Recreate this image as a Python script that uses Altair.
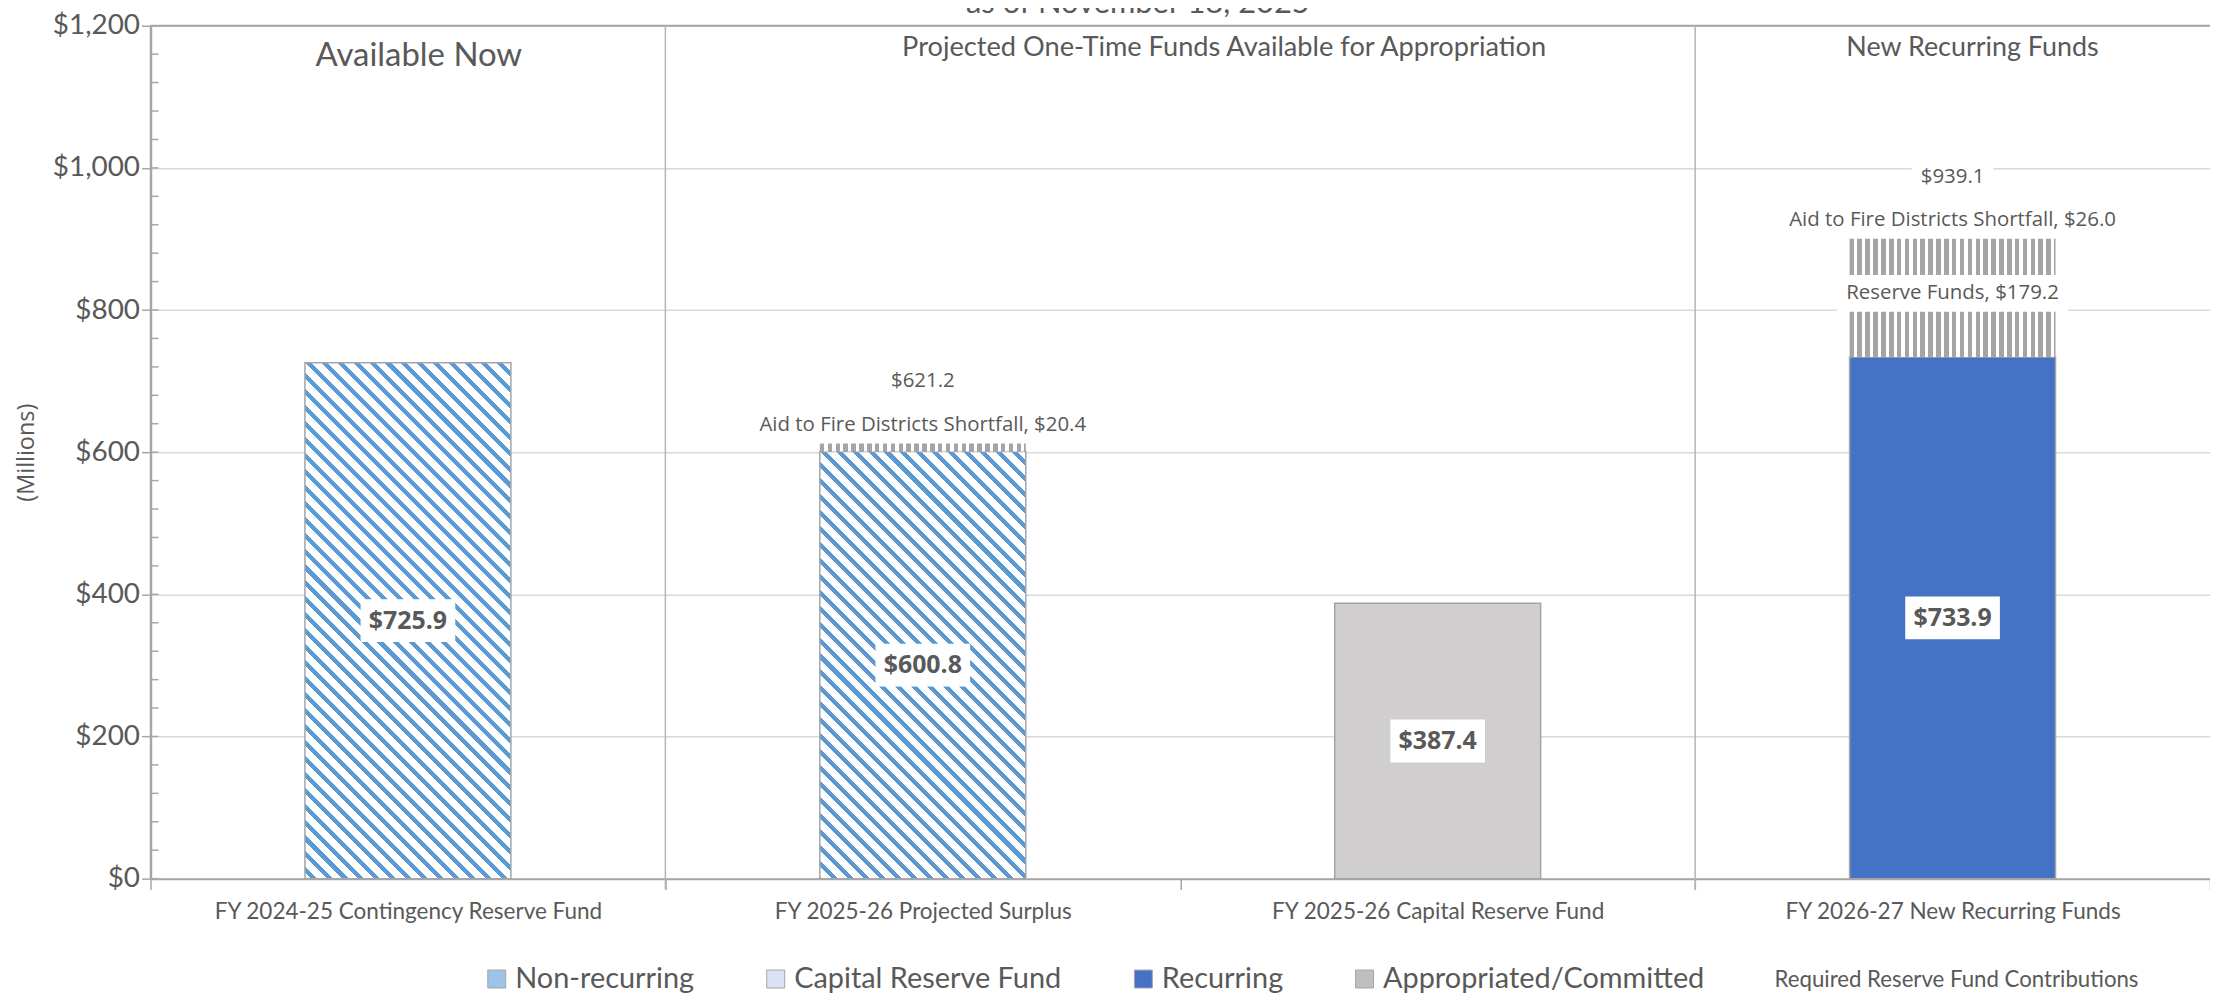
import altair as alt
import pandas as pd

# ---------------- data ----------------
categories = [
    "FY 2024-25 Contingency Reserve Fund",
    "FY 2025-26 Projected Surplus",
    "FY 2025-26 Capital Reserve Fund",
    "FY 2026-27 New Recurring Funds",
]
base_values = [725.9, 600.8, 387.4, 733.9]
base_kinds = ["Non-recurring", "Non-recurring", "Capital Reserve Fund", "Recurring"]

committed_cats = [categories[1], categories[3], categories[3]]
committed_names = ["Aid to Fire Districts Shortfall", "Reserve Funds", "Aid to Fire Districts Shortfall"]
committed_values = [20.4, 179.2, 26.0]
committed_label_place = ["above", "center", "center"]

group_names = ["Available Now", "Projected One-Time Funds Available for Appropriation", "New Recurring Funds"]
group_first = [categories[0], categories[1], categories[3]]
group_span = [1, 2, 1]

legend_names = ["Non-recurring", "Capital Reserve Fund", "Recurring", "Appropriated/Committed"]
legend_colors = ["#9DC3E6", "#DAE3F3", "#4472C4", "#BFBFBF"]
extra_legend_text = "Required Reserve Fund Contributions"

y_major_ticks = [0, 200, 400, 600, 800, 1000, 1200]
y_minor_step = 40
chart_subtitle = "as of November 18, 2025"
y_title = "(Millions)"

# ---------------- style / layout ----------------
PLOT_W, PLOT_H = 2067, 856
Y_MAX = 1200
BAR_FRAC = 0.4
TEXT = "#595959"
AXIS_GRAY = "#A6A6A6"
BORDER = "#A5A5A5"
STRIPE_BLUE = "#5B9BD5"
STRIPE_GRAY = "#A5A5A5"
KIND_COLORS = {"Capital Reserve Fund": "#D0CECE", "Recurring": "#4472C4"}
HEADER_SIZES = [33, 27.3, 27]
HEADER_Y = [30, 22, 22]
HEADER_DX = [11, 44, 20]

px_per_unit = PLOT_H / Y_MAX
bar_w = BAR_FRAC * PLOT_W / len(categories)


def diag_gradient(h_px, w_px, period=16.0, frac=0.38):
    W, H = float(w_px), float(h_px)
    L = W + H
    s = L * W * H / (W * W + H * H)
    stops = []
    d = -(int(H // period) + 1) * period
    while d < W:
        for a, b, col in [(d, d + frac * period, STRIPE_BLUE), (d + frac * period, d + period, "white")]:
            a2, b2 = max(a, -H), min(b, W)
            if b2 <= a2:
                continue
            stops.append({"offset": round((a2 + H) / L, 5), "color": col})
            stops.append({"offset": round((b2 + H) / L, 5), "color": col})
        d += period
    return {"gradient": "linear", "x1": 0, "y1": 1, "x2": s / H, "y2": 1 - s / W, "stops": stops}


def vert_gradient(w_px, period=7.9, frac=0.58):
    W = float(w_px)
    stops = []
    x = 0.0
    while x < W:
        for a, b, col in [(x, x + frac * period, STRIPE_GRAY), (x + frac * period, x + period, "white")]:
            a2, b2 = max(a, 0), min(b, W)
            if b2 <= a2:
                continue
            stops.append({"offset": round(a2 / W, 5), "color": col})
            stops.append({"offset": round(b2 / W, 5), "color": col})
        x += period
    return {"gradient": "linear", "x1": 0, "y1": 0, "x2": 1, "y2": 0, "stops": stops}


OS_W = {"$": .572, " ": .26, ",": .245, ".": .266, "A": .633, "F": .54, "R": .619, "D": .722, "S": .547,
        "a": .556, "d": .613, "e": .561, "f": .339, "h": .614, "i": .253, "l": .253, "n": .614, "o": .604,
        "r": .408, "s": .477, "t": .353, "u": .614, "v": .513, "c": .476}


def text_width(s, size):
    return sum(OS_W.get(c, .572 if c.isdigit() else .55) for c in s) * size


# ---------------- frames ----------------
base_df = pd.DataFrame({"category": categories, "value": base_values, "kind": base_kinds})
base_df["mid"] = base_df["value"] / 2
base_df["label"] = base_df["value"].map(lambda v: f"${v:,.1f}")

running = dict(zip(categories, base_values))
seg_rows = []
for cat, name, val, place in zip(committed_cats, committed_names, committed_values, committed_label_place):
    y0 = running[cat]
    y1 = y0 + val
    running[cat] = y1
    seg_rows.append(dict(category=cat, name=name, value=val, y0=y0, y1=y1, mid=(y0 + y1) / 2,
                         place=place, label=f"{name}, ${val:,.1f}"))
seg_df = pd.DataFrame(seg_rows)

xscale = alt.Scale(domain=categories, paddingInner=0, paddingOuter=0)
yscale = alt.Scale(domain=[0, Y_MAX], nice=False, zero=True)

X_AXIS = alt.Axis(
    title=None, tickBand="extent", grid=False, domainColor=AXIS_GRAY, domainWidth=2,
    tickColor=AXIS_GRAY, tickSize=11, tickWidth=1.5, labelFont="Lato", labelFontSize=22.6,
    labelColor=TEXT, labelPadding=11, labelAngle=0, labelLimit=0)
Y_AXIS = alt.Axis(
    values=y_major_ticks, format="$,.0f", title=y_title, grid=True, gridColor="#D9D9D9",
    gridWidth=1.5, domainColor=AXIS_GRAY, domainWidth=2.5, tickColor=AXIS_GRAY, tickSize=9,
    tickWidth=1.5, labelFont="Lato", labelFontSize=28, labelColor=TEXT, labelPadding=2,
    titleFont="Open Sans", titleFontSize=23.5, titleColor=TEXT, titleFontWeight="normal",
    titleX=-124, titleY=PLOT_H / 2, titleAngle=270, titleAlign="center", titleBaseline="middle")


def xenc(**kw):
    return alt.X("category:N", scale=xscale, axis=X_AXIS, **kw)


def yenc(field):
    return alt.Y(f"{field}:Q", scale=yscale, axis=Y_AXIS)


layers = []

# axes carrier (invisible)
layers.append(alt.Chart(base_df).mark_bar(opacity=0).encode(x=xenc(), y=yenc("value")))

# minor ticks (inside)
minor_df = pd.DataFrame({"v": list(range(0, Y_MAX + 1, y_minor_step))})
layers.append(alt.Chart(minor_df).mark_rule(color=AXIS_GRAY, strokeWidth=1.5).encode(
    y=yenc("v"), x=alt.value(0), x2=alt.value(8)))

# top border
layers.append(alt.Chart(pd.DataFrame({"v": [Y_MAX]})).mark_rule(color=AXIS_GRAY, strokeWidth=2).encode(
    y=yenc("v"), x=alt.value(0), x2=alt.value(PLOT_W)))

# group separators
sep_df = pd.DataFrame({"category": group_first[1:]})
layers.append(alt.Chart(sep_df).mark_rule(color="#B4B4B4", strokeWidth=1.5).encode(
    x=xenc(bandPosition=0), y=alt.value(0), y2=alt.value(PLOT_H + 11)))

# base bars
for _, row in base_df.iterrows():
    rdf = pd.DataFrame([row])
    if row["kind"] == "Non-recurring":
        fill = diag_gradient(row["value"] * px_per_unit, bar_w)
    else:
        fill = KIND_COLORS[row["kind"]]
    layers.append(alt.Chart(rdf).mark_bar(width={"band": BAR_FRAC}, fill=fill, stroke=BORDER,
                                          strokeWidth=1.5).encode(x=xenc(), y=yenc("value")))

# committed segments
layers.append(alt.Chart(seg_df).mark_bar(width={"band": BAR_FRAC}, fill=vert_gradient(bar_w)).encode(
    x=xenc(), y=yenc("y0"), y2=alt.Y2("y1")))


def boxed_label(row_df, yfield, dy, size, weight, box_w, box_h):
    half_w = box_w / 2
    top = (dy - box_h / 2) / half_w
    bot = (dy + box_h / 2) / half_w
    path = f"M-1,{top:.5f}H1V{bot:.5f}H-1Z"
    box = alt.Chart(row_df).mark_point(shape=path, size=box_w ** 2, filled=True, fill="white",
                                       opacity=1, strokeWidth=0).encode(x=xenc(), y=yenc(yfield))
    txt = alt.Chart(row_df).mark_text(font="Open Sans", fontSize=size, fontWeight=weight, color=TEXT,
                                      baseline="middle", align="center", dy=dy).encode(
        x=xenc(), y=yenc(yfield), text="label:N")
    return [box, txt]


# bold value labels
for _, row in base_df.iterrows():
    layers += boxed_label(pd.DataFrame([row]), "mid", 0, 25, "bold", 95, 43)

# committed labels + totals
LBL = 20.5
for cat in dict.fromkeys(committed_cats):
    segs = seg_df[seg_df["category"] == cat]
    for i, (_, srow) in enumerate(segs.iterrows()):
        rdf = pd.DataFrame([srow])
        if srow["place"] == "above":
            rdf["anchor"] = rdf["y1"]
            dy = -12
        else:
            rdf["anchor"] = rdf["mid"]
            dy = 0
        layers += boxed_label(rdf, "anchor", dy, LBL, "normal", text_width(srow["label"], LBL) + 18, 37)
        if i == len(segs) - 1:
            tdf = rdf.copy()
            tdf["label"] = f"${running[cat]:,.1f}"
            layers += boxed_label(tdf, "anchor", dy - 44, LBL, "normal",
                                  text_width(tdf["label"].iloc[0], LBL) + 18, 37)

# group headers
for name, first, span, fs, hy, hdx in zip(group_names, group_first, group_span, HEADER_SIZES,
                                          HEADER_Y, HEADER_DX):
    gdf = pd.DataFrame({"category": [first], "name": [name]})
    layers.append(alt.Chart(gdf).mark_text(font="Lato", fontSize=fs, color=TEXT, baseline="middle",
                                           align="center", dx=hdx).encode(
        x=xenc(bandPosition=span / 2), y=alt.value(hy), text="name:N"))

# legend carrier
leg_df = pd.DataFrame({"name": legend_names})
layers.append(alt.Chart(leg_df).mark_point(filled=True, opacity=0, shape="square").encode(
    fill=alt.Fill("name:N", scale=alt.Scale(domain=legend_names, range=legend_colors),
                  legend=alt.Legend(orient="none", legendX=333, legendY=942, direction="horizontal",
                                    title=None, symbolType="square", symbolSize=324,
                                    symbolStrokeColor=BORDER, symbolStrokeWidth=1, symbolOpacity=1,
                                    labelFont="Lato", labelFontSize=29, labelColor=TEXT, labelOffset=4,
                                    columnPadding=67, padding=0, labelLimit=0))))

layers.append(alt.Chart(pd.DataFrame({"t": [extra_legend_text]})).mark_text(
    font="Lato", fontSize=22.3, color=TEXT, align="left", baseline="middle").encode(
    x=alt.value(1630), y=alt.value(958), text="t:N"))

layers.append(alt.Chart(pd.DataFrame({"t": [chart_subtitle]})).mark_text(
    font="Lato", fontSize=31, color=TEXT, align="center", baseline="alphabetic").encode(
    x=alt.value(991), y=alt.value(-13), text="t:N"))

chart = alt.layer(*layers).properties(
    width=PLOT_W, height=PLOT_H,
    autosize=alt.AutoSizeParams(type="none"),
    padding={"left": 143, "top": 16, "right": 0, "bottom": 118},
).configure_view(stroke=None)

chart.save("out.html", embed_options={"renderer": "svg", "actions": False})
